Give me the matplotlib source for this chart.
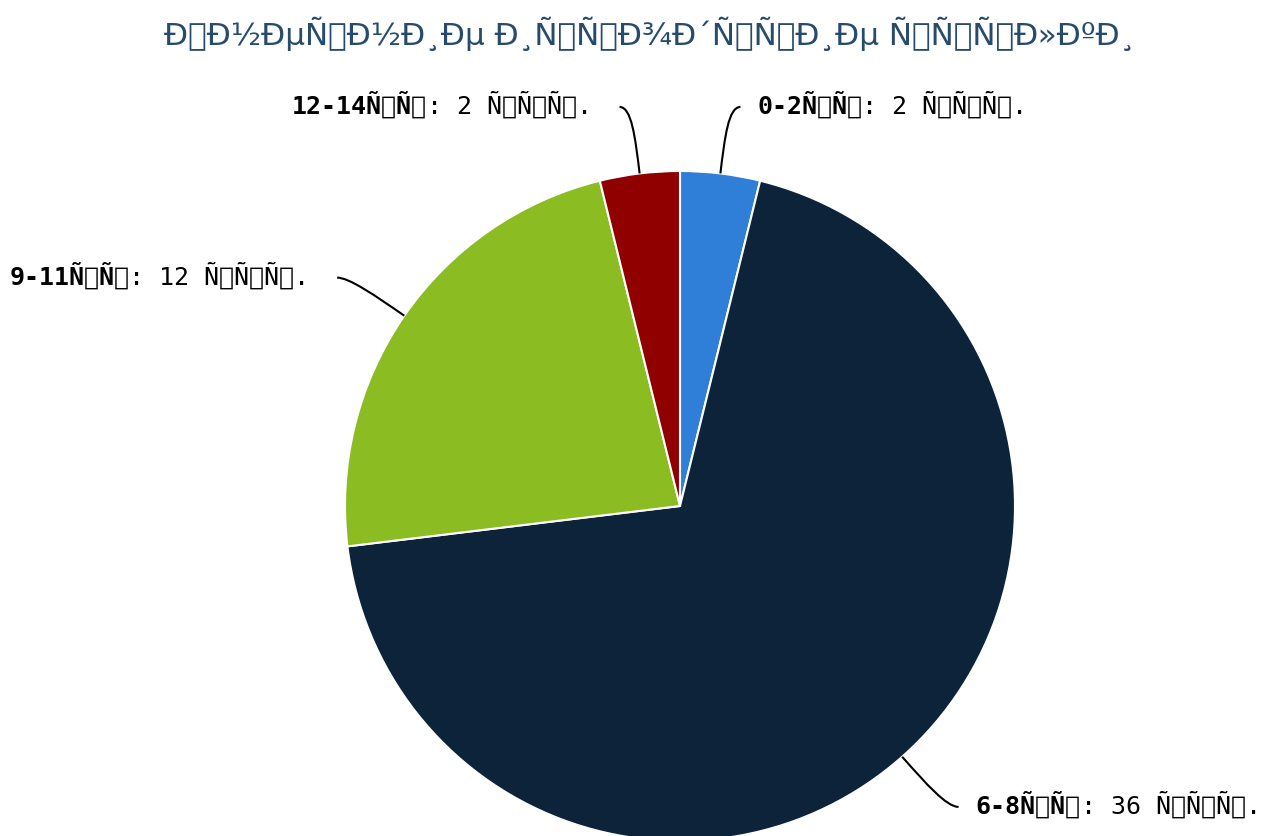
import numpy as np
import matplotlib
matplotlib.use('Agg')
from matplotlib import pyplot as plt
from matplotlib.path import Path
from matplotlib.patches import PathPatch
import warnings
warnings.filterwarnings('ignore')


def moji(s):
    # text shown as UTF-8 bytes read as Latin-1, like in the reference
    return s.encode('utf-8').decode('latin-1')


title = moji('Внешние исходящие ссылки')
categories = ['0-2шт', '6-8шт', '9-11шт', '12-14шт']
values = [2, 36, 12, 2]
unit = 'стр.'
colors = ['#2f7ed8', '#0d233a', '#8bbc21', '#910000']

W, H = 1266, 836
cx, cy, r = 680, 506, 335      # pie centre / radius in pixels (from top)
dist = 67                       # label distance outside the pie

fig = plt.figure(figsize=(W / 100, H / 100), dpi=100)
ax = fig.add_axes([0, 0, 1, 1])

wedges, _ = ax.pie(values, colors=colors, startangle=90, counterclock=False,
                   center=(cx, H - cy), radius=r,
                   wedgeprops=dict(edgecolor='white', linewidth=1.5))
ax.set_xlim(0, W)
ax.set_ylim(0, H)
ax.set_aspect('equal')
ax.axis('off')

fig.text(650 / W, 1 - 45 / H, title, ha='center', va='baseline',
         fontsize=22.4, color='#274b6d', family='DejaVu Sans')

renderer = fig.canvas.get_renderer()
fs = 18
total = sum(values)
acc = 0
for cat, v in zip(categories, values):
    mid = (acc + v / 2) / total * 2 * np.pi   # clockwise from top
    acc += v
    s, c = np.sin(mid), np.cos(mid)
    side = 1 if s >= 0 else -1
    # points in image coords (y down) then flip
    p0 = (cx + r * s, cy - r * c)
    ly = cy - (r + dist) * c
    # radial point at label level
    rho = (cy - ly) / c
    pc = (cx + rho * s, ly)
    pe = (cx + (r + dist) * s + side * 12, ly)
    p1 = (p0[0] + 0.55 * (pc[0] - p0[0]), p0[1] + 0.55 * (pc[1] - p0[1]))
    verts = [(x, H - y) for x, y in [p0, p1, pc, pe]]
    path = Path(verts, [Path.MOVETO, Path.CURVE4, Path.CURVE4, Path.CURVE4])
    ax.add_patch(PathPatch(path, fill=False, edgecolor='black', lw=1.5))

    bold = moji(cat)
    rest = ': ' + str(v) + ' ' + moji(unit)
    ty = H - ly + 2
    if side > 0:
        tx = pe[0] + 17
        t1 = ax.text(tx, ty, bold, ha='left', va='center', fontsize=fs,
                     family='DejaVu Sans Mono', weight='bold')
        bb = t1.get_window_extent(renderer)
        ax.text(tx + bb.width, ty, rest, ha='left', va='center', fontsize=fs,
                family='DejaVu Sans Mono')
    else:
        tx = pe[0] - 28
        t2 = ax.text(tx, ty, rest, ha='right', va='center', fontsize=fs,
                     family='DejaVu Sans Mono')
        bb = t2.get_window_extent(renderer)
        ax.text(tx - bb.width, ty, bold, ha='right', va='center', fontsize=fs,
                family='DejaVu Sans Mono', weight='bold')

fig.savefig('out.png', dpi=100)
